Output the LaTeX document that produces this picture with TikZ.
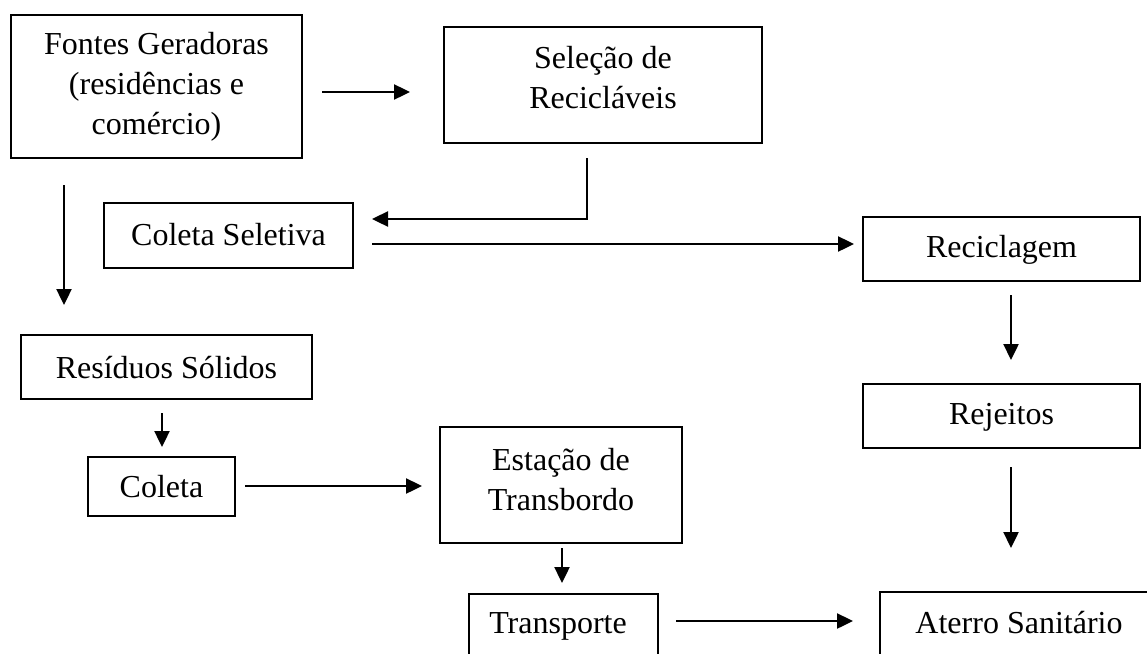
\documentclass[tikz,border=0pt]{standalone}
\usepackage{fontspec}
\setmainfont{Liberation Serif}
\usetikzlibrary{arrows.meta}
\begin{document}
\begin{tikzpicture}[x=1pt,y=-1pt,
  box/.style={draw=black, line width=1.8pt, inner sep=0pt, rectangle},
  lbl/.style={font=\fontsize{32}{40}\selectfont, align=center, inner sep=0pt},
  arr/.style={line width=2.4pt, -{Triangle[length=16pt,width=15pt]}}]
\useasboundingbox (0,0) rectangle (1147,653);
% boxes
\node[box, minimum width=291pt, minimum height=143pt] (fon) at (156.5,86.5) {};
\node[lbl] (fonT) at (156.5,87) {Fontes Geradoras\\(residências e\\comércio)};
\node[box, minimum width=318pt, minimum height=116pt] (sel) at (603,85) {};
\node[lbl] (selT) at (603,78) {Seleção de\\Recicláveis};
\node[box, minimum width=249pt, minimum height=65pt] (cs) at (228.5,235.5) {};
\node[lbl] (csT) at (228.5,235) {Coleta Seletiva};
\node[box, minimum width=277pt, minimum height=64pt] (rec) at (1001.5,249) {};
\node[lbl] (recT) at (1001.5,250) {Reciclagem};
\node[box, minimum width=277pt, minimum height=64pt] (rej) at (1001.5,416) {};
\node[lbl] (rejT) at (1001.5,417) {Rejeitos};
\node[box, minimum width=291pt, minimum height=64pt] (res) at (166.5,367) {};
\node[lbl] (resT) at (166.5,368) {Resíduos Sólidos};
\node[box, minimum width=147pt, minimum height=59pt] (col) at (161.5,486.5) {};
\node[lbl] (colT) at (161.5,487) {Coleta};
\node[box, minimum width=242pt, minimum height=116pt] (est) at (561,485) {};
\node[lbl] (estT) at (561,480) {Estação de\\Transbordo};
\node[box, minimum width=189pt, minimum height=80pt] (tra) at (563.5,634) {};
\node[lbl] (traT) at (558,626) {Transporte};
\node[box, minimum width=300pt, minimum height=80pt] (ate) at (1030,632) {};
\node[lbl] (ateT) at (1019,623) {Aterro Sanitário};
% arrow end points
\coordinate (a1s) at (322,92);   \coordinate (a1e) at (410,92);
\coordinate (a2s) at (587,158);  \coordinate (a2m) at (587,219); \coordinate (a2e) at (372,219);
\coordinate (a3s) at (372,244);  \coordinate (a3e) at (854,244);
\coordinate (a4s) at (1011,295); \coordinate (a4e) at (1011,360);
\coordinate (a5s) at (1011,467); \coordinate (a5e) at (1011,548);
\coordinate (a6s) at (64,185);   \coordinate (a6e) at (64,305);
\coordinate (a7s) at (162,413);  \coordinate (a7e) at (162,447);
\coordinate (a8s) at (245,486);  \coordinate (a8e) at (422,486);
\coordinate (a9s) at (562,548);  \coordinate (a9e) at (562,583);
\coordinate (a10s) at (676,621); \coordinate (a10e) at (853,621);
% connectors
\draw[arr] (a1s) -- (a1e);
\draw[arr] (a2s) -- (a2m) -- (a2e);
\draw[arr] (a3s) -- (a3e);
\draw[arr] (a4s) -- (a4e);
\draw[arr] (a5s) -- (a5e);
\draw[arr] (a6s) -- (a6e);
\draw[arr] (a7s) -- (a7e);
\draw[arr] (a8s) -- (a8e);
\draw[arr] (a9s) -- (a9e);
\draw[arr] (a10s) -- (a10e);
\end{tikzpicture}
\end{document}
